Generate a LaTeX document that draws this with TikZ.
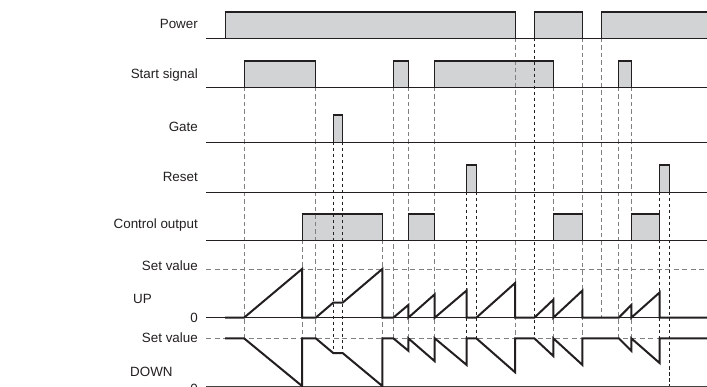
\documentclass[tikz,border=0pt]{standalone}
\usepackage{fontspec}
\setmainfont{Liberation Sans}
\definecolor{pulsegray}{RGB}{209,211,212}
\definecolor{inkc}{RGB}{35,31,32}
\begin{document}
\begin{tikzpicture}[x=1pt,y=-1pt,
  lbl/.style={anchor=base east, font=\fontsize{13.4}{16}\selectfont, text=inkc, inner sep=0pt},
  lblw/.style={lbl, anchor=base west},
  baseln/.style={draw=inkc, line width=0.9pt},
  pfill/.style={fill=pulsegray},
  pside/.style={draw=inkc, line width=1pt},
  ptop/.style={draw=inkc, line width=2.4pt},
  gdash/.style={draw=black!50, line width=0.9pt, dash pattern=on 4.5pt off 3pt},
  kdash/.style={draw=inkc, line width=0.75pt, dash pattern=on 3.5pt off 2.5pt},
  sdash/.style={draw=black!50, line width=0.9pt, dash pattern=on 5pt off 3.5pt},
  wave/.style={draw=inkc, line width=2pt, line join=miter}
]
\useasboundingbox (0,0) rectangle (707,387);

% labels
\node[lbl] (power) at (198,29) {Power};
\node[lbl] (start) at (198,79) {Start signal};
\node[lbl] (gate) at (198,132) {Gate};
\node[lbl] (reset) at (198,181.5) {Reset};
\node[lbl] (ctrl) at (198,228.5) {Control output};
\node[lbl] (sv1) at (198,270.5) {Set value};
\node[lblw] (up) at (133,304) {UP};
\node[lbl] (z1) at (198,323) {0};
\node[lbl] (sv2) at (198,343) {Set value};
\node[lblw] (down) at (130,376) {DOWN};
\node[lbl] (z2) at (198,393.5) {0};

% pulse fills
\foreach \a/\b/\bs/\tp in {225/515/38/12, 534.3/582.3/38/12, 601.7/707/38/12,
  244/315.7/87/61, 393.3/408.3/87/61, 434.7/553.3/87/61, 618.7/631.3/87/61,
  333.3/342.7/142/115,
  466.7/476.3/192/165, 659.7/669.3/192/165,
  302/382.3/240/214, 408.3/434.7/240/214, 553.3/582.3/240/214, 631.3/659.7/240/214}
  \fill[pfill] (\a,\bs) rectangle (\b,\tp);

% set value lines
\draw[sdash] (206,269) -- (707,269);
\draw[sdash] (206,338.3) -- (707,338.3);

% grey dashed verticals
\foreach \x/\ya/\yb in {244/87/338, 315.7/87/338, 302/240/386, 382.3/240/386,
  393.3/87/338, 408.3/87/338, 434.7/87/338, 515/38/372, 553.3/87/356,
  582.3/38/365, 601.7/38/318, 618.7/87/338, 631.3/87/351}
  \draw[gdash] (\x,\ya) -- (\x,\yb);
% black dashed verticals
\foreach \x/\ya/\yb in {333.3/142/354, 342.7/142/354, 466.7/192/338, 476.3/192/338,
  534.3/38/338, 659.7/192/363, 669.3/192/387}
  \draw[kdash] (\x,\ya) -- (\x,\yb);

% baselines
\foreach \y in {38,87,142,192,240,317.7}
  \draw[baseln] (206,\y) -- (707,\y);
\draw[draw=inkc!85, line width=1.3pt] (206,386.3) -- (707,386.3);

% pulse edges
\foreach \a/\b/\bs/\tp in {225/515/38/12, 534.3/582.3/38/12,
  244/315.7/87/61, 393.3/408.3/87/61, 434.7/553.3/87/61, 618.7/631.3/87/61,
  333.3/342.7/142/115,
  466.7/476.3/192/165, 659.7/669.3/192/165,
  302/382.3/240/214, 408.3/434.7/240/214, 553.3/582.3/240/214, 631.3/659.7/240/214}
  {\draw[pside] (\a,\bs) -- (\a,\tp);
   \draw[pside] (\b,\tp) -- (\b,\bs);
   \draw[ptop] (\a-0.5,\tp) -- (\b+0.5,\tp);}
\draw[pside] (601.7,38) -- (601.7,12);
\draw[ptop] (601.2,12) -- (707,12);

% UP counter
\draw[wave] (225,317.7) -- (244,317.7) -- (302,269) -- (302,317.7) -- (315.7,317.7)
  -- (333.3,302.6) -- (342.7,302.6) -- (382.3,269) -- (382.3,317.7) -- (393.3,317.7)
  -- (408.3,305) -- (408.3,317.7) -- (434.7,294.3) -- (434.7,317.7) -- (466.7,290.4)
  -- (466.7,317.7) -- (476.3,317.7) -- (515,283.1) -- (515,317.7) -- (534.3,317.7)
  -- (553.3,299.7) -- (553.3,317.7) -- (582.3,290.7) -- (582.3,317.7) -- (618.7,317.7)
  -- (631.3,305) -- (631.3,317.7) -- (659.7,292.4) -- (659.7,317.7) -- (707,317.7);

% DOWN counter
\draw[wave] (225,338.3) -- (244,338.3) -- (302,386) -- (302,338.3) -- (315.7,338.3)
  -- (333.3,353.1) -- (342.7,353.1) -- (382.3,386) -- (382.3,338.3) -- (393.3,338.3)
  -- (408.3,350.7) -- (408.3,338.3) -- (434.7,361.2) -- (434.7,338.3) -- (466.7,365)
  -- (466.7,338.3) -- (476.3,338.3) -- (515,372.2) -- (515,338.3) -- (534.3,338.3)
  -- (553.3,356) -- (553.3,338.3) -- (582.3,364.8) -- (582.3,338.3) -- (618.7,338.3)
  -- (631.3,350.7) -- (631.3,338.3) -- (659.7,363.1) -- (659.7,338.3) -- (707,338.3);
\end{tikzpicture}
\end{document}
